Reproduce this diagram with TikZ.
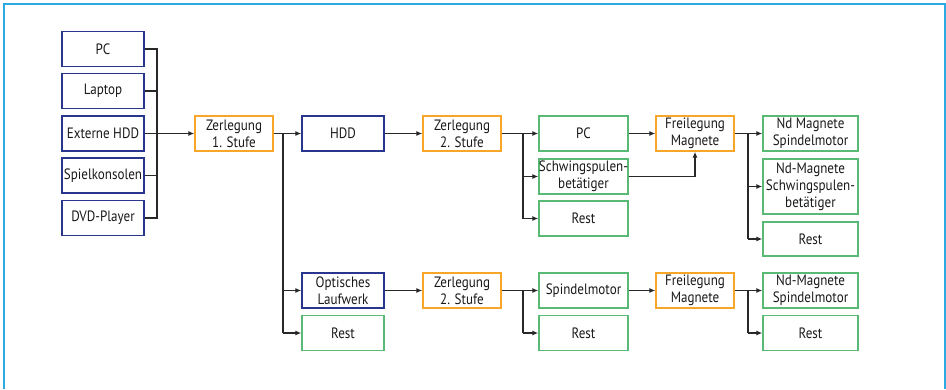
\documentclass[tikz,border=0pt]{standalone}
\usepackage{fontspec}
\setmainfont{PT Sans}[FakeStretch=0.87]
\usetikzlibrary{arrows.meta}
\definecolor{boxblue}{RGB}{40,54,142}
\definecolor{boxorange}{RGB}{247,166,40}
\definecolor{boxgreen}{RGB}{88,186,116}
\definecolor{framecol}{RGB}{45,170,225}
\definecolor{linecol}{RGB}{40,40,40}
\tikzset{
  box/.style={draw, line width=1.4pt, align=center, inner sep=0pt, text=black!90,
    font=\fontsize{15}{17}\selectfont, minimum height=35pt},
  bluebox/.style={box, draw=boxblue},
  orangebox/.style={box, draw=boxorange},
  greenbox/.style={box, draw=boxgreen},
  conn/.style={draw=linecol, line width=1.1pt},
  arr/.style={conn, -{Latex[length=6pt,width=5pt]}},
}
\begin{document}
\begin{tikzpicture}[x=1pt,y=-1pt]
\useasboundingbox (0,0) rectangle (946,389);
\draw[framecol, line width=2pt] (4,389) -- (4,4) -- (944.5,4) -- (944.5,389);

% left column
\node[bluebox, minimum width=82pt] (pc) at (103,49) {PC};
\node[bluebox, minimum width=82pt] (laptop) at (103,91) {Laptop};
\node[bluebox, minimum width=82pt] (ext) at (103,133.5) {Externe HDD};
\node[bluebox, minimum width=82pt] (spiel) at (103,175.5) {Spielkonsolen};
\node[bluebox, minimum width=82pt] (dvd) at (103,218) {DVD-Player};

\node[orangebox, minimum width=78pt] (z1) at (234,133.5) {Zerlegung\\1. Stufe};

% upper row
\node[bluebox, minimum width=82pt] (hdd) at (343,133.5) {HDD};
\node[orangebox, minimum width=78pt] (z2a) at (462,133.5) {Zerlegung\\2. Stufe};
\node[greenbox, minimum width=89pt] (pc2) at (583.5,133.5) {PC};
\node[greenbox, minimum width=89pt] (schw) at (583.5,176.5) {Schwingspulen-\\betätiger};
\node[greenbox, minimum width=89pt] (rest1) at (583.5,218.5) {Rest};
\node[orangebox, minimum width=78pt] (frei1) at (695,133.5) {Freilegung\\Magnete};
\node[greenbox, minimum width=95pt] (nd1) at (810.5,133.5) {Nd Magnete\\Spindelmotor};
\node[greenbox, minimum width=95pt, minimum height=55pt] (nd2) at (810.5,186.5) {Nd-Magnete\\Schwingspulen-\\betätiger};
\node[greenbox, minimum width=95pt, minimum height=34pt] (rest2) at (810.5,239) {Rest};

% lower row
\node[bluebox, minimum width=82pt] (opt) at (343,290.5) {Optisches\\Laufwerk};
\node[greenbox, minimum width=82pt] (rest3) at (343,333) {Rest};
\node[orangebox, minimum width=78pt] (z2b) at (462,290.5) {Zerlegung\\2. Stufe};
\node[greenbox, minimum width=89pt] (spm) at (583.5,290.5) {Spindelmotor};
\node[greenbox, minimum width=89pt] (rest4) at (583.5,333) {Rest};
\node[orangebox, minimum width=78pt] (frei2) at (695,290.5) {Freilegung\\Magnete};
\node[greenbox, minimum width=95pt] (nd3) at (810.5,290.5) {Nd-Magnete\\Spindelmotor};
\node[greenbox, minimum width=95pt] (rest5) at (810.5,333) {Rest};

% junction coordinates
\coordinate (bus) at (157,0);
\coordinate (j1) at (283,0);
\coordinate (j2) at (523,0);
\coordinate (j3) at (748,0);
\coordinate (j4) at (695,0);

% bus on the left
\draw[conn] (pc.east) -- (pc.east -| bus) -- (dvd.east -| bus) -- (dvd.east);
\draw[conn] (laptop.east) -- (laptop.east -| bus);
\draw[conn] (spiel.east) -- (spiel.east -| bus);
\draw[arr] (ext.east) -- (z1.west);

% from Zerlegung 1
\draw[arr] (z1.east) -- (hdd.west);
\draw[conn] (z1.east -| j1) -- (rest3.west -| j1);
\draw[arr] (opt.west -| j1) -- (opt.west);
\draw[arr] (rest3.west -| j1) -- (rest3.west);

% upper chain
\draw[arr] (hdd.east) -- (z2a.west);
\draw[arr] (z2a.east) -- (pc2.west);
\draw[conn] (pc2.west -| j2) -- (rest1.west -| j2);
\draw[arr] (schw.west -| j2) -- (schw.west);
\draw[arr] (rest1.west -| j2) -- (rest1.west);
\draw[arr] (pc2.east) -- (frei1.west);
\draw[arr] (schw.east) -- (schw.east -| j4) -- (frei1.south);
\draw[arr] (frei1.east) -- (nd1.west);
\draw[conn] (nd1.west -| j3) -- (rest2.west -| j3);
\draw[arr] (nd2.west -| j3) -- (nd2.west);
\draw[arr] (rest2.west -| j3) -- (rest2.west);

% lower chain
\draw[arr] (opt.east) -- (z2b.west);
\draw[arr] (z2b.east) -- (spm.west);
\draw[conn] (spm.west -| j2) -- (rest4.west -| j2);
\draw[arr] (rest4.west -| j2) -- (rest4.west);
\draw[arr] (spm.east) -- (frei2.west);
\draw[arr] (frei2.east) -- (nd3.west);
\draw[conn] (nd3.west -| j3) -- (rest5.west -| j3);
\draw[arr] (rest5.west -| j3) -- (rest5.west);
\end{tikzpicture}
\end{document}
